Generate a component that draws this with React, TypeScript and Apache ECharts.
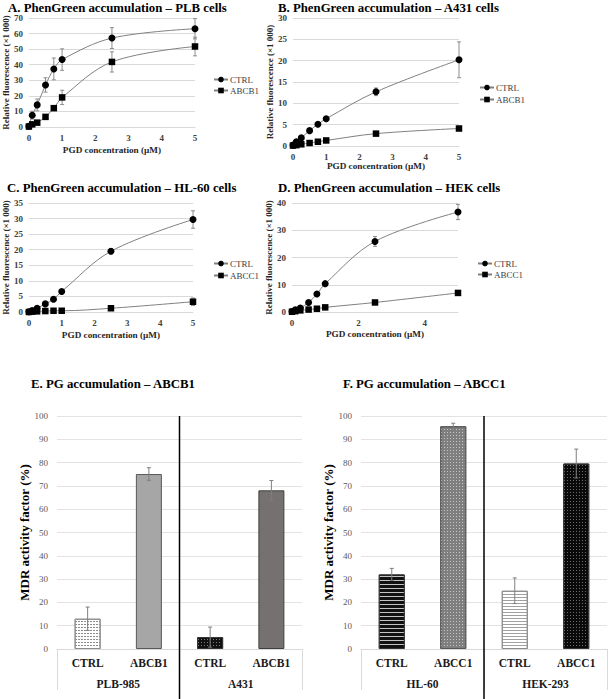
import React, { useEffect, useRef } from 'react';
import * as echarts from 'echarts';

// ---------- data ----------
const conc = [0, 0.1, 0.25, 0.5, 0.75, 1, 2.5, 5];

const plbCtrl = [0.5, 7.6, 14.2, 27, 37.3, 43.3, 57.1, 63.1];
const plbCtrlErr = [0.5, 2.5, 3.8, 4.6, 7, 6.9, 6.7, 6.5];
const plbAbcb1 = [0.3, 1.7, 2.8, 6.5, 12.1, 19, 41.8, 51.7];
const plbAbcb1Err = [0.3, 0.5, 0.8, 1, 1.2, 4.6, 6.5, 6];

const a431Ctrl = [0.2, 1.0, 1.9, 3.6, 5.1, 6.4, 12.7, 20.2];
const a431CtrlErr = [0.1, 0.2, 0.3, 0.4, 0.4, 0.4, 0.9, 4.2];
const a431Abcb1 = [0.1, 0.2, 0.4, 0.7, 1.0, 1.3, 2.9, 4.1];
const a431Abcb1Err = [0.1, 0.1, 0.1, 0.1, 0.1, 0.2, 0.3, 0.5];

const hl60Ctrl = [0.1, 0.5, 1.2, 2.6, 4.1, 6.6, 19.5, 29.7];
const hl60CtrlErr = [0.1, 0.2, 0.3, 0.3, 0.4, 0.5, 0.8, 2.8];
const hl60Abcc1 = [0, 0.1, 0.2, 0.3, 0.4, 0.4, 1.2, 3.3];
const hl60Abcc1Err = [0, 0.1, 0.1, 0.1, 0.1, 0.1, 0.3, 1.2];

const hekCtrl = [0.2, 0.8, 1.5, 3.5, 6.6, 10.4, 25.9, 36.7];
const hekCtrlErr = [0.1, 0.2, 0.3, 0.4, 0.5, 0.6, 1.8, 2.8];
const hekAbcc1 = [0.1, 0.3, 0.6, 0.9, 1.2, 1.7, 3.5, 7.0];
const hekAbcc1Err = [0.1, 0.1, 0.1, 0.1, 0.1, 0.2, 0.3, 0.4];

const abcb1Cats = ['CTRL', 'ABCB1', 'CTRL', 'ABCB1'];
const abcb1Groups = ['PLB-985', 'A431'];
const abcb1Values = [13, 75.1, 5.1, 68.1];
const abcb1Err = [5, 2.7, 4.3, 4.2];

const abcc1Cats = ['CTRL', 'ABCC1', 'CTRL', 'ABCC1'];
const abcc1Groups = ['HL-60', 'HEK-293'];
const abcc1Values = [32, 95.6, 25, 79.6];
const abcc1Err = [2.6, 1.3, 5.5, 6.2];

const panelTitles = [
  'A. PhenGreen accumulation \u2013 PLB cells',
  'B. PhenGreen accumulation \u2013 A431 cells',
  'C. PhenGreen accumulation \u2013 HL-60 cells',
  'D. PhenGreen accumulation \u2013 HEK cells',
  'E. PG accumulation \u2013 ABCB1',
  'F. PG accumulation \u2013 ABCC1',
];

const FONT = 'Liberation Serif';

// ---------- layout ----------
const scatterGrids = [
  { left: 28, top: 18, width: 167, height: 109 },
  { left: 293, top: 18, width: 166, height: 128 },
  { left: 28, top: 203, width: 165, height: 109 },
  { left: 292, top: 203, width: 166, height: 109 },
];
const barGrids = [
  { left: 57, top: 416, width: 245, height: 233 },
  { left: 361, top: 416, width: 246, height: 233 },
];

const scatterY = [
  { max: 70, interval: 10 },
  { max: 30, interval: 5 },
  { max: 35, interval: 5 },
  { max: 40, interval: 10 },
];
const scatterXInterval = [1, 1, 1, 2];
const xNameGap = [18, 15, 18, 17];

const titlePos = [
  { left: 8, top: 1 },
  { left: 278, top: 1 },
  { left: 7, top: 181 },
  { left: 278, top: 181 },
  { left: 31, top: 377 },
  { left: 343, top: 377 },
];

const legendPos = [
  { left: 213, top: 75, names: ['CTRL', 'ABCB1'], gap: 2 },
  { left: 479, top: 83, names: ['CTRL', 'ABCB1'], gap: 3 },
  { left: 213, top: 259, names: ['CTRL', 'ABCC1'], gap: 3 },
  { left: 477, top: 259, names: ['CTRL', 'ABCC1'], gap: 2 },
];

const scatterSets = [
  { ctrl: plbCtrl, ctrlErr: plbCtrlErr, mdr: plbAbcb1, mdrErr: plbAbcb1Err, mdrName: 'ABCB1' },
  { ctrl: a431Ctrl, ctrlErr: a431CtrlErr, mdr: a431Abcb1, mdrErr: a431Abcb1Err, mdrName: 'ABCB1' },
  { ctrl: hl60Ctrl, ctrlErr: hl60CtrlErr, mdr: hl60Abcc1, mdrErr: hl60Abcc1Err, mdrName: 'ABCC1' },
  { ctrl: hekCtrl, ctrlErr: hekCtrlErr, mdr: hekAbcc1, mdrErr: hekAbcc1Err, mdrName: 'ABCC1' },
];

function errRender(capW: number, color: string) {
  return (params: any, api: any) => {
    const x = api.value(0);
    const lo = api.value(1);
    const hi = api.value(2);
    const p1 = api.coord([x, hi]);
    const p2 = api.coord([x, lo]);
    const style = { stroke: color, lineWidth: 1 };
    return {
      type: 'group',
      children: [
        { type: 'line', shape: { x1: p1[0], y1: p1[1], x2: p2[0], y2: p2[1] }, style },
        { type: 'line', shape: { x1: p1[0] - capW, y1: p1[1], x2: p1[0] + capW, y2: p1[1] }, style },
        { type: 'line', shape: { x1: p2[0] - capW, y1: p2[1], x2: p2[0] + capW, y2: p2[1] }, style },
      ],
    };
  };
}

const barStyles = [
  [
    { color: '#ffffff', borderColor: '#8c8c8c', borderWidth: 1, decal: { symbol: 'rect', symbolSize: 1, dashArrayX: [2, 1], dashArrayY: [1, 2], color: '#8c8c8c' } },
    { color: '#a6a6a6', borderColor: '#595959', borderWidth: 1 },
    { color: '#111111', borderColor: '#333333', borderWidth: 1, decal: { symbol: 'rect', symbolSize: 1, dashArrayX: [1, 2], dashArrayY: [1, 2], color: 'rgba(255,255,255,0.45)' } },
    { color: '#757171', borderColor: '#404040', borderWidth: 1 },
  ],
  [
    { color: '#111111', borderColor: '#333333', borderWidth: 1, decal: { symbol: 'rect', symbolSize: 1, dashArrayX: [1, 0], dashArrayY: [1, 3], color: 'rgba(255,255,255,0.75)' } },
    { color: '#7f7f7f', borderColor: '#595959', borderWidth: 1, decal: { symbol: 'rect', symbolSize: 1, dashArrayX: [1, 2], dashArrayY: [1, 2], color: 'rgba(255,255,255,0.55)' } },
    { color: '#ffffff', borderColor: '#8c8c8c', borderWidth: 1, decal: { symbol: 'rect', symbolSize: 1, dashArrayX: [1, 0], dashArrayY: [1, 2], color: '#a0a0a0' } },
    { color: '#0a0a0a', borderColor: '#333333', borderWidth: 1, decal: { symbol: 'rect', symbolSize: 1, dashArrayX: [1, 2], dashArrayY: [1, 2], color: 'rgba(255,255,255,0.4)' } },
  ],
];

function buildOption() {
  const grid: any[] = [];
  const xAxis: any[] = [];
  const yAxis: any[] = [];
  const series: any[] = [];
  const title: any[] = [];
  const legend: any[] = [];
  const graphic: any[] = [];

  panelTitles.forEach((t, i) => {
    title.push({
      text: t,
      left: titlePos[i].left,
      top: titlePos[i].top,
      padding: 0,
      textStyle: { fontFamily: FONT, fontSize: 12.8, fontWeight: 'bold', color: '#000' },
    });
  });

  scatterGrids.forEach((g, i) => {
    grid.push({ ...g, containLabel: false });
    xAxis.push({
      type: 'value',
      gridIndex: i,
      min: 0,
      max: 5,
      interval: scatterXInterval[i],
      name: 'PGD concentration (\u00b5M)',
      nameLocation: 'middle',
      nameGap: xNameGap[i],
      nameTextStyle: { fontFamily: FONT, fontSize: 9.2, fontWeight: 'bold', color: '#262626' },
      axisLine: { show: true, lineStyle: { color: '#d9d9d9', width: 1 } },
      axisTick: { show: false },
      splitLine: { show: false },
      axisLabel: { fontFamily: FONT, fontSize: 9, fontWeight: 'bold', color: '#404040', margin: 6, showMaxLabel: i !== 3 },
    });
    yAxis.push({
      type: 'value',
      gridIndex: i,
      min: 0,
      max: scatterY[i].max,
      interval: scatterY[i].interval,
      name: 'Relative fluorescence (\u00d71 000)',
      nameLocation: 'middle',
      nameGap: 18,
      nameTextStyle: { fontFamily: FONT, fontSize: 9, fontWeight: 'bold', color: '#262626' },
      axisLine: { show: false },
      axisTick: { show: false },
      splitLine: { show: true, lineStyle: { color: '#d9d9d9', width: 1 } },
      axisLabel: { fontFamily: FONT, fontSize: 9, fontWeight: 'bold', color: '#404040', margin: 6 },
    });
    const s = scatterSets[i];
    const mk = (vals: number[]) => conc.map((x, k) => [x, vals[k]]);
    const mkErr = (vals: number[], errs: number[]) =>
      conc.map((x, k) => [x, Math.max(0, vals[k] - errs[k]), vals[k] + errs[k]]);
    series.push({
      type: 'custom',
      name: 'errCtrl' + i,
      xAxisIndex: i,
      yAxisIndex: i,
      renderItem: errRender(2, '#8c8c8c'),
      data: mkErr(s.ctrl, s.ctrlErr),
      encode: { x: 0, y: [1, 2] },
      z: 1,
      silent: true,
    });
    series.push({
      type: 'custom',
      name: 'errMdr' + i,
      xAxisIndex: i,
      yAxisIndex: i,
      renderItem: errRender(2, '#8c8c8c'),
      data: mkErr(s.mdr, s.mdrErr),
      encode: { x: 0, y: [1, 2] },
      z: 1,
      silent: true,
    });
    series.push({
      type: 'line',
      name: 'CTRL',
      xAxisIndex: i,
      yAxisIndex: i,
      data: mk(s.ctrl),
      smooth: 0.35,
      symbol: 'circle',
      symbolSize: 7,
      itemStyle: { color: '#000' },
      lineStyle: { color: '#808080', width: 1 },
      z: 3,
    });
    series.push({
      type: 'line',
      name: s.mdrName,
      xAxisIndex: i,
      yAxisIndex: i,
      data: mk(s.mdr),
      smooth: 0.35,
      symbol: 'rect',
      symbolSize: 6.5,
      itemStyle: { color: '#000' },
      lineStyle: { color: '#808080', width: 1 },
      z: 3,
    });
    legend.push({
      data: legendPos[i].names,
      left: legendPos[i].left,
      top: legendPos[i].top,
      orient: 'vertical',
      padding: 0,
      itemWidth: 14,
      itemHeight: 7,
      itemGap: legendPos[i].gap,
      selectedMode: false,
      textStyle: { fontFamily: FONT, fontSize: 9, color: '#404040', padding: [0, 0, 0, -3] },
    });
  });

  const barSets = [
    { cats: abcb1Cats, groups: abcb1Groups, vals: abcb1Values, errs: abcb1Err },
    { cats: abcc1Cats, groups: abcc1Groups, vals: abcc1Values, errs: abcc1Err },
  ];

  barSets.forEach((b, j) => {
    const gi = 4 + j;
    const g = barGrids[j];
    grid.push({ ...g, containLabel: false });
    const xi = xAxis.length;
    xAxis.push({
      type: 'category',
      gridIndex: gi,
      data: b.cats.map((c, k) => c + '#' + k),
      axisLine: { show: true, lineStyle: { color: '#d9d9d9' } },
      axisTick: { show: false },
      axisLabel: {
        interval: 0,
        margin: 8,
        formatter: (v: string) => v.split('#')[0],
        fontFamily: FONT,
        fontSize: 11.5,
        fontWeight: 'bold',
        color: '#1a1a1a',
      },
    });
    xAxis.push({
      type: 'category',
      gridIndex: gi,
      position: 'bottom',
      data: b.groups,
      axisLine: { show: false },
      axisTick: { show: true, length: 41, interval: 0, lineStyle: { color: '#d9d9d9' } },
      axisLabel: { interval: 0, margin: 29, fontFamily: FONT, fontSize: 11.5, fontWeight: 'bold', color: '#1a1a1a' },
    });
    const yi = yAxis.length;
    yAxis.push({
      type: 'value',
      gridIndex: gi,
      min: 0,
      max: 100,
      interval: 10,
      name: 'MDR activity factor (%)',
      nameLocation: 'middle',
      nameGap: 23,
      nameTextStyle: { fontFamily: FONT, fontSize: 13, fontWeight: 'bold', color: '#000' },
      axisLine: { show: false },
      axisTick: { show: false },
      splitLine: { show: true, lineStyle: { color: '#e3e3e3' } },
      axisLabel: { fontFamily: FONT, fontSize: 9, color: '#595959', margin: 9 },
    });
    series.push({
      type: 'bar',
      name: 'bars' + j,
      xAxisIndex: xi,
      yAxisIndex: yi,
      barWidth: 26,
      data: b.vals.map((v, k) => ({ value: v, itemStyle: barStyles[j][k] })),
      z: 2,
    });
    series.push({
      type: 'custom',
      name: 'barErr' + j,
      xAxisIndex: xi,
      yAxisIndex: yi,
      renderItem: errRender(2, '#7f7f7f'),
      data: b.vals.map((v, k) => [k, Math.max(0, v - b.errs[k]), v + b.errs[k]]),
      encode: { x: 0, y: [1, 2] },
      z: 5,
      silent: true,
    });
    const midX = g.left + g.width / 2;
    graphic.push({
      type: 'line',
      shape: { x1: midX, y1: g.top, x2: midX, y2: 699 },
      style: { stroke: '#000', lineWidth: 1.5 },
      z: 10,
    });
  });

  return {
    animation: false,
    backgroundColor: '#ffffff',
    textStyle: { fontFamily: FONT },
    title,
    legend,
    grid,
    xAxis,
    yAxis,
    series,
    graphic,
  };
}

export default function App() {
  const ref = useRef<HTMLDivElement>(null);
  useEffect(() => {
    if (!ref.current) return;
    const chart = echarts.init(ref.current, undefined, { renderer: 'svg' });
    chart.setOption(buildOption() as any);
    return () => chart.dispose();
  }, []);
  return (
    <div
      ref={ref}
      style={{ position: 'absolute', left: 0, top: 0, width: 608, height: 699, background: '#fff' }}
    />
  );
}
